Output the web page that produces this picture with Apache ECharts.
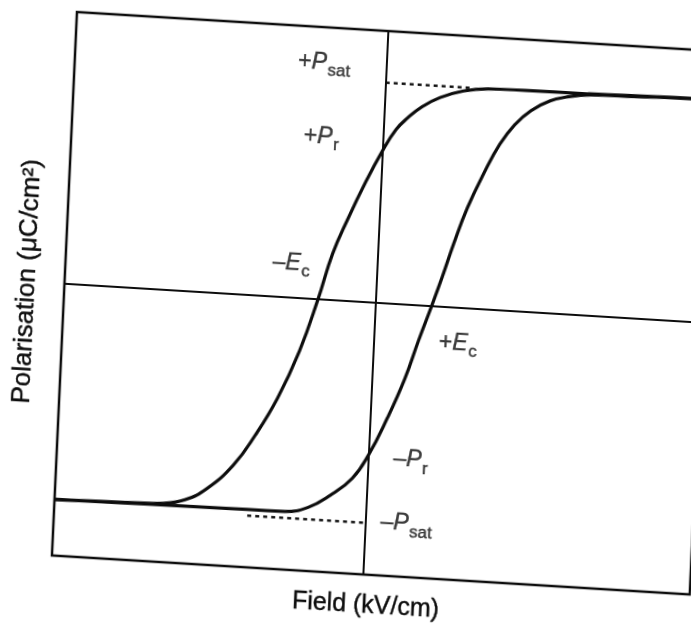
<!DOCTYPE html>
<html>
<head>
<meta charset="utf-8">
<script src="https://cdn.jsdelivr.net/npm/echarts@6/dist/echarts.min.js"></script>
<style>
  html, body { margin: 0; padding: 0; background: #fff; overflow: hidden; width: 691px; height: 625px; }
  /* the figure sits slightly tilted on the page */
  #chart {
    position: absolute; left: 0; top: 0; width: 719px; height: 624px;
    transform-origin: 0 0;
    transform: matrix(0.99844, 0.06103, -0.04596, 0.99816, 18.0, -11.6);
  }
</style>
</head>
<body>
<div id="chart"></div>
<script>
// Ferroelectric hysteresis loop: polarisation against applied field
const fieldRange = [-10, 10.5];
const polRange = [-10, 10];
const Psat = 8.1;   // saturation polarisation
const Pr = 5.6;     // remanent polarisation
const Ec = 1.8;     // coercive field

// branch swept from positive saturation down to negative saturation
const upperBranch = [
  [10.5, 8.2], [9.8, 8.2], [6.5, 8.15], [4.5, 8.13], [3.3, 8.1], [2.5, 7.97],
  [1.77, 7.68], [1.2, 7.3], [0.75, 6.85], [0.4, 6.4], [0.0, 5.6], [-0.5, 4.4],
  [-1.0, 3.05], [-1.45, 1.7], [-1.85, 0.0], [-2.37, -1.95], [-3.0, -3.72],
  [-3.66, -5.13], [-4.32, -6.28], [-5.13, -7.2], [-5.82, -7.66], [-6.5, -7.83],
  [-7.5, -7.88], [-10, -7.94]
];
// branch swept from negative saturation back up to positive saturation
const lowerBranch = [
  [-10, -7.94], [-7, -7.9], [-4.5, -7.88], [-2.6, -7.86], [-1.86, -7.66],
  [-1.17, -7.17], [-0.49, -6.5], [0.0, -5.6], [0.55, -4.2], [1.05, -2.72],
  [1.43, -1.3], [1.8, 0.0], [2.1, 1.1], [2.42, 2.35], [2.8, 3.68],
  [3.29, 5.02], [3.75, 6.1], [4.2, 6.85], [4.7, 7.4], [5.3, 7.8],
  [5.9, 8.0], [6.6, 8.11], [8, 8.15], [9.8, 8.2], [10.5, 8.2]
];
// dotted guides from the polarisation axis to the saturation level
const satGuideTop = [[0, Psat], [2.8, Psat]];
const satGuideBottom = [[-3.8, -Psat], [0, -Psat]];

const FONT = '"Liberation Sans", Arial, Helvetica, sans-serif';
const INK = '#0d0d0d';
// a hairline outline gives the printed lettering its weight
const inkEdge = { textBorderColor: INK, textBorderWidth: 0.4 };

const rich = {
  n: Object.assign({ fontSize: 23, fontFamily: FONT, color: INK, verticalAlign: 'top', lineHeight: 25 }, inkEdge),
  i: Object.assign({ fontSize: 23, fontFamily: FONT, color: INK, fontStyle: 'italic', verticalAlign: 'top', lineHeight: 25 }, inkEdge),
  s: Object.assign({ fontSize: 17, fontFamily: FONT, color: INK, verticalAlign: 'top', padding: [11, 0, 0, 1] }, inkEdge)
};

function tag(value, text, pos, align) {
  return { value: value, label: { show: true, formatter: text, position: pos, align: align, verticalAlign: 'middle', rich: rich } };
}

const labelPoints = [
  tag([0, Psat], '{n|+}{i|P}{s|sat}', [-36, -14], 'right'),
  tag([0, Pr], '{n|+}{i|P}{s|r}', [-44, -8], 'right'),
  tag([-Ec, 0], '{n|\u2013}{i|E}{s|c}', [-11, -32], 'right'),
  tag([Ec, 0], '{n|+}{i|E}{s|c}', [9, 38], 'left'),
  tag([0, -Pr], '{n|\u2013}{i|P}{s|r}', [25, 5], 'left'),
  tag([0, -Psat], '{n|\u2013}{i|P}{s|sat}', [15, 1], 'left')
];

const chart = echarts.init(document.getElementById('chart'), null, { renderer: 'canvas' });
const curveStyle = { color: INK, width: 3.2 };

chart.setOption({
  animation: false,
  backgroundColor: 'transparent',
  grid: { left: 60, top: 20, width: 639, height: 544, show: true, borderColor: INK, borderWidth: 2.5, backgroundColor: 'transparent' },
  xAxis: {
    type: 'value', min: fieldRange[0], max: fieldRange[1],
    axisLine: { show: false }, axisTick: { show: false }, axisLabel: { show: false }, splitLine: { show: false },
    name: 'Field (kV/cm)', nameLocation: 'middle', nameGap: 19,
    nameTextStyle: Object.assign({ fontSize: 25, fontFamily: FONT, color: INK, padding: [0, 8, 0, 0] }, inkEdge)
  },
  yAxis: {
    type: 'value', min: polRange[0], max: polRange[1],
    axisLine: { show: false }, axisTick: { show: false }, axisLabel: { show: false }, splitLine: { show: false },
    name: 'Polarisation (\u03bcC/cm\u00b2)', nameLocation: 'middle', nameGap: 24,
    nameTextStyle: Object.assign({ fontSize: 26, fontFamily: FONT, color: INK }, inkEdge)
  },
  series: [
    {
      type: 'line', data: upperBranch, smooth: 0.45, symbol: 'none', lineStyle: curveStyle, z: 3,
      markLine: {
        silent: true, symbol: 'none', label: { show: false },
        lineStyle: { color: INK, width: 2, type: 'solid' },
        data: [{ xAxis: 0 }, { yAxis: 0 }]
      }
    },
    { type: 'line', data: lowerBranch, smooth: 0.45, symbol: 'none', lineStyle: curveStyle, z: 3 },
    { type: 'line', data: satGuideTop, symbol: 'none', lineStyle: { color: INK, width: 2.4, type: [4, 4] } },
    { type: 'line', data: satGuideBottom, symbol: 'none', lineStyle: { color: INK, width: 2.4, type: [4, 4] } },
    { type: 'scatter', data: labelPoints, symbolSize: 0, z: 5 }
  ]
});
</script>
</body>
</html>
